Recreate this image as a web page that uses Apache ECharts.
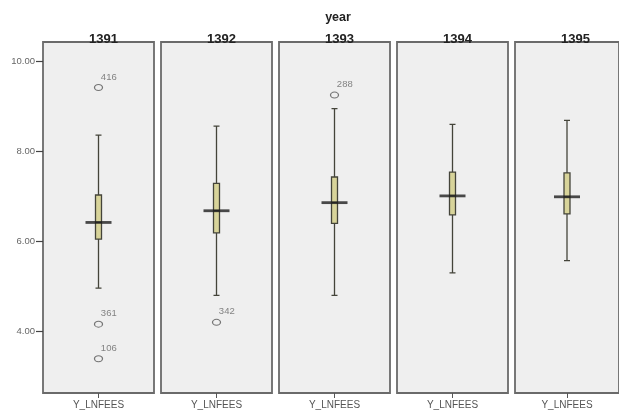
<!DOCTYPE html>
<html>
<head>
<meta charset="utf-8">
<script src="https://cdn.jsdelivr.net/npm/echarts@6/dist/echarts.min.js"></script>
<style>html,body{margin:0;padding:0;background:#fff}#c{width:619px;height:412px}</style>
</head>
<body>
<div id="c"></div>
<script>
const years = ['1391', '1392', '1393', '1394', '1395'];
const variableName = 'Y_LNFEES';
// [lower whisker, Q1, median, Q3, upper whisker]
const boxStats = [
  [4.95, 6.04, 6.41, 7.02, 8.35],
  [4.79, 6.18, 6.67, 7.28, 8.55],
  [4.79, 6.39, 6.85, 7.42, 8.94],
  [5.29, 6.58, 7.00, 7.53, 8.59],
  [5.56, 6.60, 6.98, 7.51, 8.68]
];
// outliers per year: [value, case id]
const outliers = [
  [[9.41, '416'], [4.15, '361'], [3.38, '106']],
  [[4.19, '342']],
  [[9.24, '288']],
  [],
  []
];
const yTicks = [4, 6, 8, 10];

const chart = echarts.init(document.getElementById('c'));
const lefts = [43, 161, 279, 397, 515];
const grids = [], xAxes = [], yAxes = [], series = [], titles = [];
years.forEach((y, i) => {
  grids.push({left: lefts[i], width: 111, top: 42, height: 351, show: true,
    backgroundColor: '#efefef', borderColor: '#6a6a6a', borderWidth: 1.8});
  xAxes.push({type: 'category', gridIndex: i, data: [variableName],
    axisLine: {show: false},
    axisTick: {show: true, alignWithLabel: true, length: 5, lineStyle: {color: '#555'}},
    axisLabel: {color: '#555', fontSize: 10, margin: 7, fontFamily: 'Liberation Sans'}});
  yAxes.push({type: 'value', gridIndex: i, min: 2.62, max: 10.42, splitLine: {show: false},
    axisLine: {show: false},
    axisTick: {show: i === 0, customValues: yTicks, length: 7, lineStyle: {color: '#444', width: 1.2}},
    axisLabel: {show: i === 0, customValues: yTicks, color: '#666', fontSize: 9.5, margin: 8,
      fontFamily: 'Liberation Sans', formatter: v => v.toFixed(2)}});
  series.push({type: 'boxplot', xAxisIndex: i, yAxisIndex: i, data: [boxStats[i]],
    boxWidth: [6, 6],
    itemStyle: {color: '#d8d49a', borderColor: '#44443a', borderWidth: 1.3},
    emphasis: {disabled: true}});
  series.push({type: 'scatter', xAxisIndex: i, yAxisIndex: i, z: 5,
    data: [[0, boxStats[i][2]]], symbol: 'rect', symbolSize: [26, 2.8],
    itemStyle: {color: '#1e1e1e'}, silent: true});
  series.push({type: 'scatter', xAxisIndex: i, yAxisIndex: i, z: 5,
    data: outliers[i].map(o => ({value: [0, o[0]], name: o[1]})),
    symbol: 'circle', symbolSize: [8, 6],
    itemStyle: {color: 'rgba(0,0,0,0)', borderColor: '#555', borderWidth: 1.1},
    label: {show: true, formatter: p => p.name, position: [7, -12], fontSize: 9.5,
      color: '#666', fontFamily: 'Liberation Sans'},
    silent: true});
  titles.push({text: y, left: lefts[i] + 55.5, top: 28, textAlign: 'center',
    textStyle: {fontSize: 13, fontWeight: 'bold', color: '#222', fontFamily: 'Liberation Sans'}});
});
titles.push({text: 'year', left: 333, top: 6, textAlign: 'center',
  textStyle: {fontSize: 12.5, fontWeight: 'bold', color: '#222', fontFamily: 'Liberation Sans'}});

chart.setOption({
  animation: false,
  title: titles,
  grid: grids,
  xAxis: xAxes,
  yAxis: yAxes,
  series: series
});
</script>
</body>
</html>
